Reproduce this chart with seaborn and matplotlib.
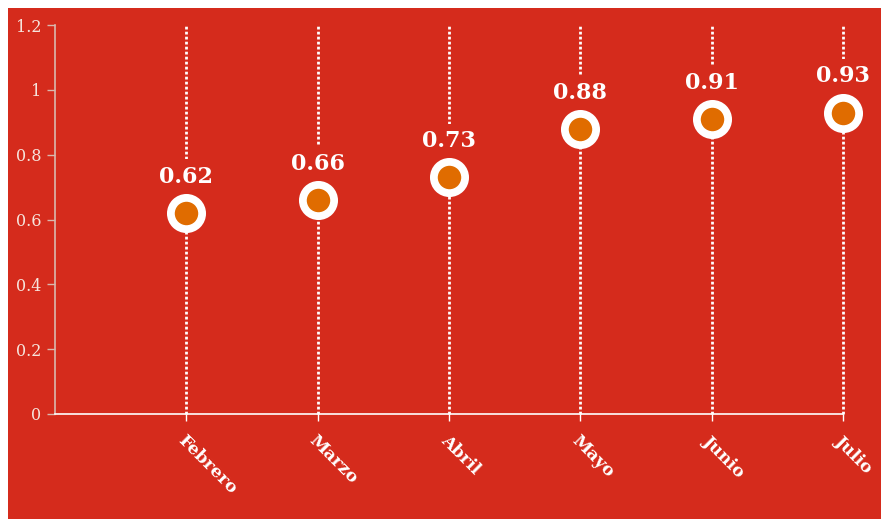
import matplotlib
matplotlib.use("Agg")
import matplotlib.pyplot as plt
import seaborn as sns
import pandas as pd
from matplotlib.patches import Rectangle

months = ["Febrero", "Marzo", "Abril", "Mayo", "Junio", "Julio"]
values = [0.62, 0.66, 0.73, 0.88, 0.91, 0.93]
value_labels = ["0.62", "0.66", "0.73", "0.88", "0.91", "0.93"]
yticks = [0, 0.2, 0.4, 0.6, 0.8, 1.0, 1.2]
ytick_labels = ["0", "0.2", "0.4", "0.6", "0.8", "1", "1.2"]

RED = "#D52B1C"
ORANGE = "#E06C00"
LIGHT = "#F6E4DC"

sns.set_theme(style="white")
plt.rcParams["font.family"] = ["DejaVu Serif"]

df = pd.DataFrame({"mes": months, "valor": values})

fig = plt.figure(figsize=(8.81, 5.19), dpi=100, facecolor=RED)
fig.patches.append(Rectangle((0, 1 - 8 / 519), 1, 8 / 519, transform=fig.transFigure,
                             facecolor="white", edgecolor="none", zorder=-10))
fig.patches.append(Rectangle((0, 0), 8 / 881, 1, transform=fig.transFigure,
                             facecolor="white", edgecolor="none", zorder=-10))
ax = fig.add_axes([55 / 881, 105 / 519, (843 - 55) / 881, (414 - 25) / 519])
ax.set_facecolor(RED)
ax.patch.set_alpha(0)

pos = list(range(len(months)))
ax.vlines(pos, 0, 1.2, colors="white", linestyles=(0, (1.0, 0.8)), linewidth=2.0,
          zorder=1, clip_on=False)

sns.scatterplot(data=df, x="mes", y="valor", ax=ax, s=22.5 ** 2, color=ORANGE,
                edgecolor="white", linewidth=5.6, zorder=4, legend=False, clip_on=False)

for p, v, lab in zip(pos, values, value_labels):
    ax.annotate(lab, (p, v), xytext=(0, 26), textcoords="offset points",
                ha="center", va="center", color="white", fontsize=16, fontweight="bold",
                bbox=dict(boxstyle="square,pad=0.3", facecolor=RED, edgecolor="none"),
                zorder=3, annotation_clip=False)

ax.set_xlim(-1, 5)
ax.set_ylim(0, 1.2)
ax.set_yticks(yticks)
ax.set_yticklabels(ytick_labels, color=LIGHT, fontsize=11.5)
ax.set_xticks(pos)
ax.set_xticklabels(months, rotation=-45, ha="left", va="top", rotation_mode="anchor",
                   color="white", fontsize=12.5, fontweight="bold")
ax.set_xlabel("")
ax.set_ylabel("")

for s in ["top", "right"]:
    ax.spines[s].set_visible(False)
ax.spines["left"].set_color("#D9B8AE")
ax.spines["left"].set_linewidth(1.2)
ax.spines["bottom"].set_color("white")
ax.spines["bottom"].set_linewidth(1.2)
ax.tick_params(axis="y", left=True, length=6, width=1, color="#D9B8AE", pad=4)
ax.tick_params(axis="x", bottom=True, length=5, width=1, color="white", pad=8)

fig.savefig("out.png", dpi=100, facecolor=RED)
